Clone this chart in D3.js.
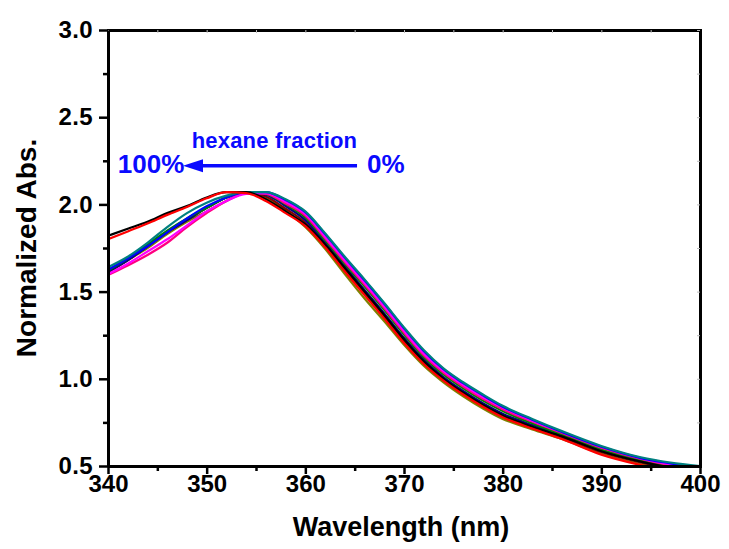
<!DOCTYPE html>
<meta charset="utf-8">
<script src="https://cdn.jsdelivr.net/npm/d3@7"></script>
<style>
  body { margin: 0; background: #fff; }
  text { font-family: "Liberation Sans", Arial, sans-serif; font-weight: bold; }
</style>
<body>
<script>

var width = 729
var height = 549

// wavelengths (nm) shared by every spectrum
var wavelengths = [340,342,344,346,348,350,352,354,356,358,360,362,364,366,368,370,372,374,376,378,380,383,386,390,394,397,400]

// normalized absorbance, one array per hexane fraction
var absTeal    = [1.64,1.70,1.78,1.87,1.95,2.01,2.05,2.07,2.07,2.03,1.96,1.835,1.70,1.57,1.435,1.295,1.165,1.06,0.98,0.91,0.845,0.77,0.70,0.615,0.55,0.52,0.50]
var absBlue    = [1.625,1.69,1.76,1.84,1.92,1.99,2.04,2.07,2.07,2.025,1.955,1.83,1.695,1.565,1.43,1.29,1.16,1.055,0.975,0.905,0.84,0.765,0.695,0.61,0.545,0.515,0.49]
var absMagenta = [1.60,1.66,1.73,1.80,1.88,1.96,2.02,2.06,2.065,2.015,1.945,1.815,1.68,1.55,1.415,1.275,1.145,1.045,0.965,0.895,0.835,0.76,0.695,0.61,0.545,0.51,0.49]
var absPink    = [1.595,1.65,1.71,1.78,1.87,1.95,2.02,2.065,2.06,2.005,1.935,1.805,1.67,1.54,1.405,1.265,1.135,1.035,0.955,0.885,0.825,0.755,0.69,0.605,0.54,0.505,0.485]
var absGreen   = [1.62,1.69,1.77,1.85,1.92,1.98,2.04,2.07,2.06,2.00,1.925,1.795,1.66,1.53,1.395,1.255,1.125,1.025,0.945,0.875,0.815,0.745,0.68,0.595,0.535,0.50,0.48]
var absNavy    = [1.615,1.68,1.76,1.84,1.91,1.98,2.04,2.07,2.055,1.99,1.91,1.78,1.645,1.51,1.375,1.235,1.11,1.01,0.93,0.86,0.80,0.735,0.675,0.59,0.53,0.495,0.475]
var absWine    = [1.61,1.68,1.76,1.84,1.91,1.98,2.04,2.07,2.045,1.975,1.895,1.765,1.625,1.49,1.355,1.215,1.09,0.995,0.915,0.845,0.785,0.72,0.665,0.58,0.52,0.485,0.46]
var absOlive   = [1.61,1.68,1.75,1.83,1.90,1.96,2.02,2.065,2.04,1.965,1.87,1.745,1.60,1.46,1.33,1.195,1.075,0.98,0.90,0.83,0.77,0.71,0.655,0.57,0.51,0.48,0.45]
var absBlack   = [1.82,1.86,1.90,1.95,1.99,2.04,2.07,2.07,2.03,1.96,1.885,1.77,1.635,1.50,1.365,1.225,1.10,1.00,0.92,0.85,0.79,0.725,0.67,0.585,0.525,0.49,0.465]
var absRed     = [1.80,1.845,1.89,1.94,1.985,2.035,2.07,2.065,2.02,1.95,1.875,1.755,1.615,1.48,1.345,1.205,1.085,0.99,0.91,0.84,0.78,0.715,0.655,0.565,0.505,0.47,0.44]

var seriesNames  = ["olive","wine","navy","green","pink","magenta","blue","teal","black","red"]
var seriesValues = [absOlive, absWine, absNavy, absGreen, absPink, absMagenta, absBlue, absTeal, absBlack, absRed]
var seriesColors = ["#808000","#800000","#000080","#008000","#ff0080","#ff00ff","#0000ff","#008080","#000000","#ff0000"]

var xTicks = [340,350,360,370,380,390,400]
var yTicks = [0.5,1.0,1.5,2.0,2.5,3.0]

var margin = {left: 108, right: 29, top: 30, bottom: 83}

var x = d3.scaleLinear().domain([340, 400]).range([margin.left, width - margin.right])
var y = d3.scaleLinear().domain([0.5, 3.0]).range([height - margin.bottom, margin.top])

var svg = d3.select("body").append("svg")
            .attr("width", width)
            .attr("height", height)

svg.append("defs").append("clipPath").attr("id", "plotclip")
   .append("rect")
   .attr("x", x(340)).attr("y", y(3.0))
   .attr("width", x(400) - x(340)).attr("height", y(0.5) - y(3.0))

var line = d3.line()
             .x(function(d) { return x(d[0]) })
             .y(function(d) { return y(d[1]) })
             .curve(d3.curveMonotoneX)

var curves = svg.append("g").attr("clip-path", "url(#plotclip)")
seriesValues.forEach(function(vals, i) {
  curves.append("path")
        .attr("class", "spectrum " + seriesNames[i])
        .attr("d", line(wavelengths.map(function(w, j) { return [w, vals[j]] })))
        .attr("fill", "none")
        .attr("stroke", seriesColors[i])
        .attr("stroke-width", 2.2)
})

// top and right frame with small inward ticks
svg.append("g")
   .attr("transform", "translate(0," + y(3.0) + ")")
   .call(d3.axisBottom(x).tickValues(d3.range(340, 401, 5)).tickSize(3).tickFormat(""))
   .call(function(g) { g.selectAll(".tick line").attr("stroke", "#bbb") })
   .call(function(g) { g.select(".domain").attr("stroke-width", 3) })

svg.append("g")
   .attr("transform", "translate(" + x(400) + ",0)")
   .call(d3.axisLeft(y).tickValues(d3.range(0.5, 3.01, 0.25)).tickSize(3).tickFormat(""))
   .call(function(g) { g.selectAll(".tick line").attr("stroke", "#bbb") })
   .call(function(g) { g.select(".domain").attr("stroke-width", 3) })

// bottom axis: minor then major
svg.append("g")
   .attr("transform", "translate(0," + y(0.5) + ")")
   .call(d3.axisBottom(x).tickValues(d3.range(345, 400, 10)).tickSize(5).tickFormat(""))
   .call(function(g) { g.select(".domain").remove() })
   .call(function(g) { g.selectAll(".tick line").attr("stroke-width", 2.5) })

svg.append("g")
   .attr("transform", "translate(0," + y(0.5) + ")")
   .call(d3.axisBottom(x).tickValues(xTicks).tickSize(8).tickPadding(1).tickSizeOuter(0))
   .call(function(g) { g.select(".domain").attr("stroke-width", 3) })
   .call(function(g) { g.selectAll(".tick line").attr("stroke-width", 2.5) })
   .call(function(g) { g.selectAll(".tick text").attr("font-size", 24).attr("fill", "#000")
                         .attr("font-family", "Liberation Sans, Arial, sans-serif") })

// left axis: minor then major
svg.append("g")
   .attr("transform", "translate(" + x(340) + ",0)")
   .call(d3.axisLeft(y).tickValues(d3.range(0.75, 3.0, 0.5)).tickSize(5).tickFormat(""))
   .call(function(g) { g.select(".domain").remove() })
   .call(function(g) { g.selectAll(".tick line").attr("stroke-width", 2.5) })

svg.append("g")
   .attr("transform", "translate(" + x(340) + ",0)")
   .call(d3.axisLeft(y).tickValues(yTicks).tickSize(9).tickPadding(6).tickSizeOuter(0).tickFormat(d3.format(".1f")))
   .call(function(g) { g.select(".domain").attr("stroke-width", 3) })
   .call(function(g) { g.selectAll(".tick line").attr("stroke-width", 2.5) })
   .call(function(g) { g.selectAll(".tick text").attr("font-size", 24).attr("fill", "#000")
                         .attr("letter-spacing", "0.4px").attr("font-family", "Liberation Sans, Arial, sans-serif") })

// axis titles
svg.append("text")
   .attr("transform", "translate(" + 401 + "," + 536 + ")")
   .style("text-anchor", "middle")
   .attr("font-size", 27)
   .text("Wavelength (nm)")

svg.append("text")
   .attr("transform", "translate(" + 36 + "," + 248 + ")" + "rotate(-90)")
   .style("text-anchor", "middle")
   .attr("font-size", 28)
   .text("Normalized Abs.")

// hexane fraction annotation
var blue = "#0a0aff"
var arrowY = y(2.222)
var tipX = x(347.6)

svg.append("line")
   .attr("x1", x(365.24)).attr("y1", arrowY)
   .attr("x2", tipX + 14).attr("y2", arrowY)
   .attr("stroke", blue).attr("stroke-width", 3.4)

svg.append("path")
   .attr("d", d3.line()([[tipX, arrowY], [tipX + 20, arrowY - 6.5], [tipX + 20, arrowY + 6.5]]) + "Z")
   .attr("fill", blue)

svg.append("text")
   .attr("x", x(356.87)).attr("y", y(2.323))
   .style("text-anchor", "middle")
   .attr("font-size", 22).attr("fill", blue).attr("letter-spacing", "0.2px")
   .text("hexane fraction")

svg.append("text")
   .attr("x", x(341.0)).attr("y", y(2.18))
   .attr("font-size", 26).attr("fill", blue)
   .text("100%")

svg.append("text")
   .attr("x", x(366.25)).attr("y", y(2.18))
   .attr("font-size", 26).attr("fill", blue)
   .text("0%")

</script>
</body>
